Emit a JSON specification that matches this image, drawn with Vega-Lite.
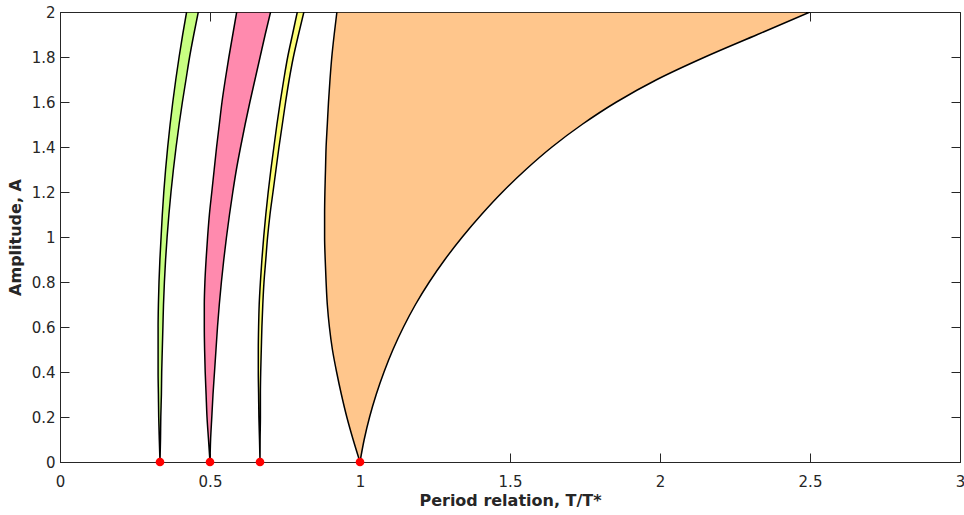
{
  "$schema": "https://vega.github.io/schema/vega-lite/v6.json",
  "width": 900,
  "height": 450,
  "autosize": {"type": "none"},
  "padding": {"left": 60, "top": 12, "right": 4, "bottom": 53},
  "background": "white",
  "config": {
    "view": {"stroke": "#262626", "strokeWidth": 1},
    "axis": {
      "labelFont": "DejaVu Sans", "labelFontSize": 15, "labelColor": "#262626",
      "titleFont": "DejaVu Sans", "titleFontSize": 16, "titleFontWeight": "bold", "titleColor": "#262626",
      "tickColor": "#262626", "domainColor": "#262626", "grid": false, "tickSize": -9,
      "labelFlush": false, "labelOverlap": false
    }
  },
  "datasets": {
    "tongues": [
      {"t": "1/3", "A": 0.0, "xl": 0.3333, "xr": 0.3333},
      {"t": "1/3", "A": 0.1, "xl": 0.331, "xr": 0.335},
      {"t": "1/3", "A": 0.2, "xl": 0.329, "xr": 0.336},
      {"t": "1/3", "A": 0.3, "xl": 0.328, "xr": 0.338},
      {"t": "1/3", "A": 0.4, "xl": 0.327, "xr": 0.339},
      {"t": "1/3", "A": 0.5, "xl": 0.327, "xr": 0.341},
      {"t": "1/3", "A": 0.6, "xl": 0.327, "xr": 0.343},
      {"t": "1/3", "A": 0.7, "xl": 0.328, "xr": 0.345},
      {"t": "1/3", "A": 0.8, "xl": 0.330, "xr": 0.348},
      {"t": "1/3", "A": 0.9, "xl": 0.333, "xr": 0.352},
      {"t": "1/3", "A": 1.0, "xl": 0.337, "xr": 0.357},
      {"t": "1/3", "A": 1.1, "xl": 0.341, "xr": 0.363},
      {"t": "1/3", "A": 1.2, "xl": 0.346, "xr": 0.370},
      {"t": "1/3", "A": 1.3, "xl": 0.352, "xr": 0.378},
      {"t": "1/3", "A": 1.4, "xl": 0.359, "xr": 0.387},
      {"t": "1/3", "A": 1.5, "xl": 0.367, "xr": 0.397},
      {"t": "1/3", "A": 1.6, "xl": 0.376, "xr": 0.408},
      {"t": "1/3", "A": 1.7, "xl": 0.386, "xr": 0.420},
      {"t": "1/3", "A": 1.8, "xl": 0.397, "xr": 0.432},
      {"t": "1/3", "A": 1.9, "xl": 0.409, "xr": 0.446},
      {"t": "1/3", "A": 2.0, "xl": 0.422, "xr": 0.461},
      {"t": "1/2", "A": 0.0, "xl": 0.5, "xr": 0.5},
      {"t": "1/2", "A": 0.1, "xl": 0.495, "xr": 0.502},
      {"t": "1/2", "A": 0.2, "xl": 0.490, "xr": 0.506},
      {"t": "1/2", "A": 0.3, "xl": 0.487, "xr": 0.510},
      {"t": "1/2", "A": 0.4, "xl": 0.484, "xr": 0.515},
      {"t": "1/2", "A": 0.5, "xl": 0.482, "xr": 0.520},
      {"t": "1/2", "A": 0.6, "xl": 0.481, "xr": 0.525},
      {"t": "1/2", "A": 0.7, "xl": 0.481, "xr": 0.531},
      {"t": "1/2", "A": 0.8, "xl": 0.483, "xr": 0.538},
      {"t": "1/2", "A": 0.9, "xl": 0.487, "xr": 0.546},
      {"t": "1/2", "A": 1.0, "xl": 0.492, "xr": 0.555},
      {"t": "1/2", "A": 1.1, "xl": 0.498, "xr": 0.565},
      {"t": "1/2", "A": 1.2, "xl": 0.506, "xr": 0.576},
      {"t": "1/2", "A": 1.3, "xl": 0.514, "xr": 0.588},
      {"t": "1/2", "A": 1.4, "xl": 0.522, "xr": 0.602},
      {"t": "1/2", "A": 1.5, "xl": 0.531, "xr": 0.617},
      {"t": "1/2", "A": 1.6, "xl": 0.540, "xr": 0.633},
      {"t": "1/2", "A": 1.7, "xl": 0.551, "xr": 0.650},
      {"t": "1/2", "A": 1.8, "xl": 0.563, "xr": 0.667},
      {"t": "1/2", "A": 1.9, "xl": 0.576, "xr": 0.684},
      {"t": "1/2", "A": 2.0, "xl": 0.589, "xr": 0.702},
      {"t": "2/3", "A": 0.0, "xl": 0.6667, "xr": 0.6667},
      {"t": "2/3", "A": 0.1, "xl": 0.665, "xr": 0.667},
      {"t": "2/3", "A": 0.2, "xl": 0.663, "xr": 0.668},
      {"t": "2/3", "A": 0.3, "xl": 0.662, "xr": 0.668},
      {"t": "2/3", "A": 0.4, "xl": 0.661, "xr": 0.669},
      {"t": "2/3", "A": 0.5, "xl": 0.661, "xr": 0.671},
      {"t": "2/3", "A": 0.6, "xl": 0.662, "xr": 0.673},
      {"t": "2/3", "A": 0.7, "xl": 0.664, "xr": 0.676},
      {"t": "2/3", "A": 0.8, "xl": 0.668, "xr": 0.680},
      {"t": "2/3", "A": 0.9, "xl": 0.673, "xr": 0.686},
      {"t": "2/3", "A": 1.0, "xl": 0.679, "xr": 0.692},
      {"t": "2/3", "A": 1.1, "xl": 0.686, "xr": 0.700},
      {"t": "2/3", "A": 1.2, "xl": 0.694, "xr": 0.710},
      {"t": "2/3", "A": 1.3, "xl": 0.703, "xr": 0.720},
      {"t": "2/3", "A": 1.4, "xl": 0.713, "xr": 0.730},
      {"t": "2/3", "A": 1.5, "xl": 0.723, "xr": 0.741},
      {"t": "2/3", "A": 1.6, "xl": 0.734, "xr": 0.752},
      {"t": "2/3", "A": 1.7, "xl": 0.746, "xr": 0.764},
      {"t": "2/3", "A": 1.8, "xl": 0.759, "xr": 0.778},
      {"t": "2/3", "A": 1.9, "xl": 0.775, "xr": 0.795},
      {"t": "2/3", "A": 2.0, "xl": 0.791, "xr": 0.813},
      {"t": "1/1", "A": 0.0, "xl": 1.0, "xr": 1.0},
      {"t": "1/1", "A": 0.1, "xl": 0.977, "xr": 1.014},
      {"t": "1/1", "A": 0.2, "xl": 0.956, "xr": 1.032},
      {"t": "1/1", "A": 0.3, "xl": 0.938, "xr": 1.054},
      {"t": "1/1", "A": 0.4, "xl": 0.922, "xr": 1.080},
      {"t": "1/1", "A": 0.5, "xl": 0.908, "xr": 1.110},
      {"t": "1/1", "A": 0.6, "xl": 0.898, "xr": 1.145},
      {"t": "1/1", "A": 0.7, "xl": 0.891, "xr": 1.185},
      {"t": "1/1", "A": 0.8, "xl": 0.887, "xr": 1.231},
      {"t": "1/1", "A": 0.9, "xl": 0.884, "xr": 1.283},
      {"t": "1/1", "A": 1.0, "xl": 0.882, "xr": 1.341},
      {"t": "1/1", "A": 1.1, "xl": 0.882, "xr": 1.405},
      {"t": "1/1", "A": 1.2, "xl": 0.883, "xr": 1.475},
      {"t": "1/1", "A": 1.3, "xl": 0.885, "xr": 1.553},
      {"t": "1/1", "A": 1.4, "xl": 0.887, "xr": 1.640},
      {"t": "1/1", "A": 1.5, "xl": 0.891, "xr": 1.740},
      {"t": "1/1", "A": 1.6, "xl": 0.895, "xr": 1.855},
      {"t": "1/1", "A": 1.7, "xl": 0.900, "xr": 1.990},
      {"t": "1/1", "A": 1.8, "xl": 0.906, "xr": 2.150},
      {"t": "1/1", "A": 1.9, "xl": 0.914, "xr": 2.325},
      {"t": "1/1", "A": 2.0, "xl": 0.923, "xr": 2.500}
    ],
    "dots": [
      {"x": 0.3333, "A": 0},
      {"x": 0.5, "A": 0},
      {"x": 0.6667, "A": 0},
      {"x": 1.0, "A": 0}
    ]
  },
  "layer": [
    {
      "data": {"name": "tongues"},
      "mark": {"type": "area", "orient": "horizontal", "interpolate": "monotone", "stroke": "black", "strokeWidth": 1.5, "clip": true, "fillOpacity": 1},
      "encoding": {
        "y": {"field": "A", "type": "quantitative", "scale": {"domain": [0, 2], "nice": false},
          "axis": {"title": "Amplitude, A", "values": [0, 0.2, 0.4, 0.6, 0.8, 1, 1.2, 1.4, 1.6, 1.8, 2], "format": "~g", "labelPadding": 14, "titlePadding": 8}},
        "x": {"field": "xl", "type": "quantitative", "scale": {"domain": [0, 3], "nice": false},
          "axis": {"title": "Period relation, T/T*", "values": [0, 0.5, 1, 1.5, 2, 2.5, 3], "format": "~g", "labelPadding": 21, "titlePadding": 3}},
        "x2": {"field": "xr"},
        "color": {"field": "t", "type": "nominal", "legend": null,
          "scale": {"domain": ["1/3", "1/2", "2/3", "1/1"], "range": ["#c8ff82", "#ff8aae", "#ffff78", "#ffc68c"]}}
      }
    },
    {
      "data": {"name": "dots"},
      "mark": {"type": "point", "filled": true, "color": "#ff0000", "size": 75, "opacity": 1},
      "encoding": {
        "x": {"field": "x", "type": "quantitative",
          "axis": {"orient": "top", "title": null, "labels": false, "domain": false, "values": [0, 0.5, 1, 1.5, 2, 2.5, 3]}},
        "y": {"field": "A", "type": "quantitative",
          "axis": {"orient": "right", "title": null, "labels": false, "domain": false, "values": [0, 0.2, 0.4, 0.6, 0.8, 1, 1.2, 1.4, 1.6, 1.8, 2]}}
      }
    }
  ],
  "resolve": {"axis": {"x": "independent", "y": "independent"}}
}
